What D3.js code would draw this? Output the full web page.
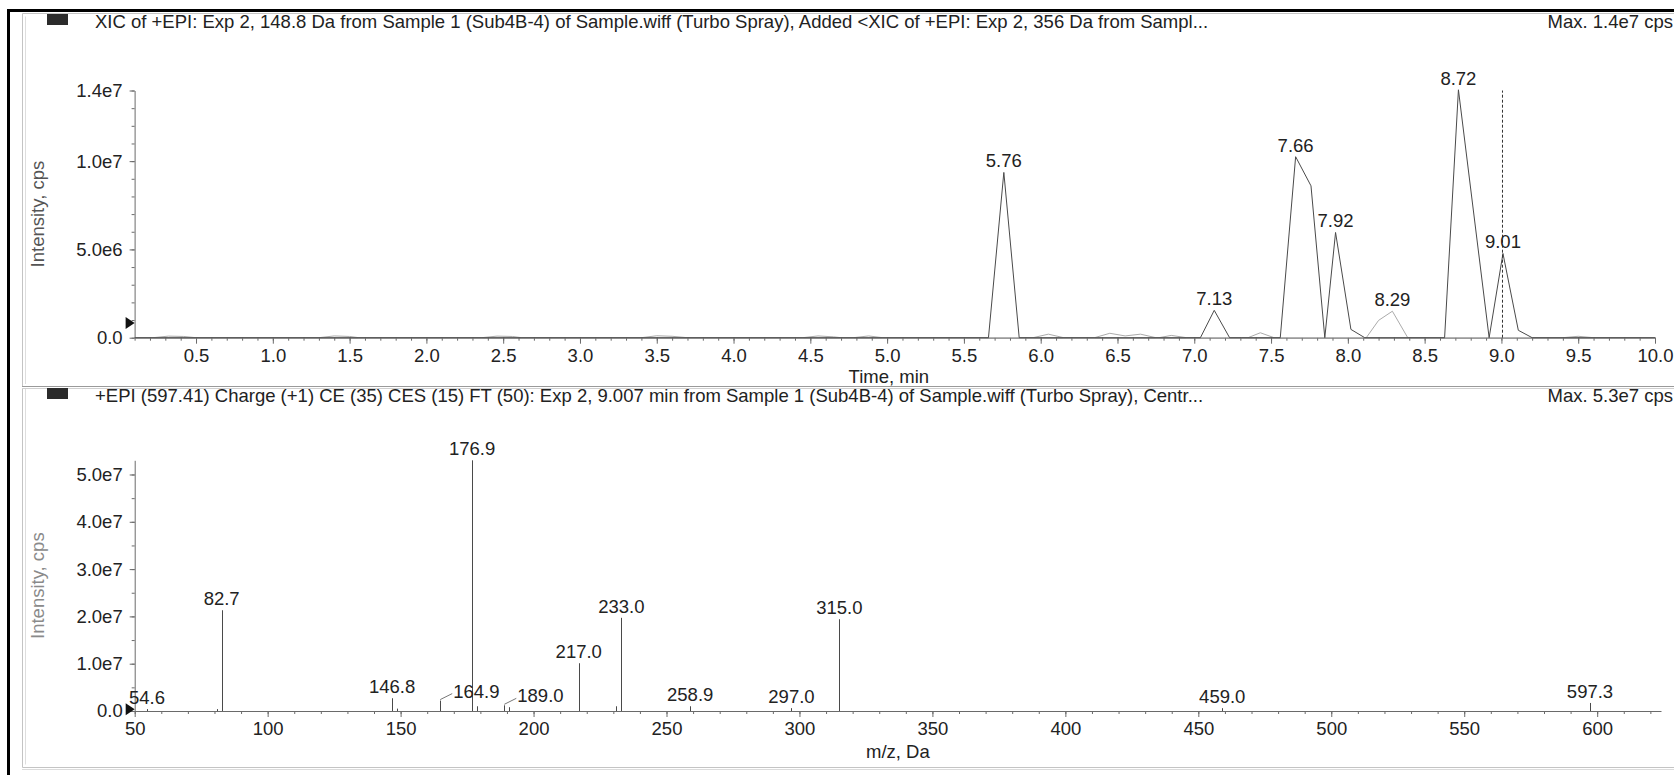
<!DOCTYPE html>
<html>
<head>
<meta charset="utf-8">
<script src="https://cdn.jsdelivr.net/npm/d3@7"></script>
<style>
  html, body { margin: 0; padding: 0; background: #fff; }
  svg { display: block; }
  text { font-family: "Liberation Sans", Arial, sans-serif; font-size: 18.5px; fill: #222; }
</style>
</head>
<body>
<svg id="fig" width="1674" height="775"></svg>
<script>
// ---- Extracted ion chromatogram, 148.8 Da (retention time, min / intensity, cps)
const xicTime = [0.10, 5.66, 5.76, 5.86, 7.04, 7.13, 7.23, 7.31, 7.56, 7.66, 7.76, 7.85,
                 7.92, 8.02, 8.11, 8.63, 8.72, 8.92, 9.01, 9.11, 9.20, 10.00];
const xicIntensity = [0, 0, 9.36e6, 0, 0, 1.55e6, 0, 0, 0, 1.025e7, 8.6e6, 0,
                      5.96e6, 4.7e5, 0, 0, 1.404e7, 0, 4.77e6, 4.2e5, 0, 0];

// ---- Added extracted ion chromatogram, 356 Da
const xic2Time = [0.10, 0.22, 0.32, 0.42, 0.50, 1.30, 1.40, 1.50, 1.56, 2.36, 2.46, 2.56, 2.62,
                  3.40, 3.50, 3.60, 3.70, 4.45, 4.55, 4.65, 4.70, 4.78, 4.88, 4.97,
                  5.95, 6.05, 6.15, 6.35, 6.45, 6.55, 6.65, 6.75, 6.77, 6.85, 6.95,
                  7.35, 7.43, 7.52, 8.12, 8.20, 8.29, 8.39, 9.40, 9.50, 9.60, 10.00];
const xic2Intensity = [0, 0, 9e4, 7e4, 0, 0, 1.0e5, 7e4, 0, 0, 9e4, 7e4, 0,
                       0, 1.1e5, 8e4, 0, 0, 1.0e5, 5e4, 0, 0, 1.0e5, 0,
                       0, 2.0e5, 0, 0, 2.5e5, 1.0e5, 2.0e5, 0, 0, 1.3e5, 0,
                       0, 2.8e5, 0, 0, 9.8e5, 1.5e6, 0, 0, 8e4, 0, 0];

const peakTimes = [5.76, 7.13, 7.66, 7.92, 8.29, 8.72, 9.01];
const selectedTime = 9.007;
const xicThreshold = 8.3e5;

const timeTicks = [0.5, 1.0, 1.5, 2.0, 2.5, 3.0, 3.5, 4.0, 4.5, 5.0,
                   5.5, 6.0, 6.5, 7.0, 7.5, 8.0, 8.5, 9.0, 9.5, 10.0];
const xicIntensityTicks = [0, 5e6, 1e7, 1.4e7];
const xicIntensityTickLabels = ["0.0", "5.0e6", "1.0e7", "1.4e7"];

// ---- Product ion spectrum at 9.007 min (m/z, Da / intensity, cps)
const mz = [54.6, 80.9, 82.7, 146.8, 148.8, 164.9, 176.9, 178.7, 189.0, 190.6,
            217.0, 230.9, 233.0, 258.9, 297.0, 315.0, 459.0, 597.3];
const mzIntensity = [4.0e5, 4.0e5, 2.13e7, 2.7e6, 5.0e5, 2.2e6, 5.3e7, 1.0e6, 1.2e6, 8.0e5,
                     1.01e7, 1.0e6, 1.97e7, 1.0e6, 6.0e5, 1.94e7, 6.0e5, 1.7e6];
const mzLabelled = [54.6, 82.7, 146.8, 164.9, 176.9, 189.0, 217.0, 233.0,
                    258.9, 297.0, 315.0, 459.0, 597.3];
const mzLeaderLabelled = [164.9, 189.0];
const spectrumThreshold = 3.6e5;

const mzTicks = [50, 100, 150, 200, 250, 300, 350, 400, 450, 500, 550, 600];
const spectrumIntensityTicks = [0, 1e7, 2e7, 3e7, 4e7, 5e7];
const spectrumIntensityTickLabels = ["0.0", "1.0e7", "2.0e7", "3.0e7", "4.0e7", "5.0e7"];

const xicTitle = "XIC of +EPI: Exp 2, 148.8 Da from Sample 1 (Sub4B-4) of Sample.wiff (Turbo Spray), Added <XIC of +EPI: Exp 2, 356 Da from Sampl...";
const spectrumTitle = "+EPI (597.41) Charge (+1) CE (35) CES (15) FT (50): Exp 2, 9.007 min from Sample 1 (Sub4B-4) of Sample.wiff (Turbo Spray), Centr...";

// ------------------------------------------------------------------
const svg = d3.select("#fig");
svg.append("rect").attr("width", 1674).attr("height", 775).attr("fill", "#fff");

// window frames
const frame = svg.append("g").attr("fill", "none");
frame.append("path").attr("d", "M8.5,775V10.5H1674").attr("stroke", "#000").attr("stroke-width", 3);
frame.append("path").attr("d", "M22.5,386V13.5H1674").attr("stroke", "#c4c4c4");
frame.append("path").attr("d", "M25.5,384V16.5").attr("stroke", "#dedede");
frame.append("line").attr("x1", 22).attr("x2", 1674).attr("y1", 386.5).attr("y2", 386.5).attr("stroke", "#9a9a9a");
frame.append("line").attr("x1", 22).attr("x2", 1674).attr("y1", 388.5).attr("y2", 388.5).attr("stroke", "#d0d0d0");
frame.append("path").attr("d", "M22.5,389V767.5H1674").attr("stroke", "#c4c4c4");
frame.append("path").attr("d", "M25.5,389V764.5").attr("stroke", "#dedede");
frame.append("line").attr("x1", 22).attr("x2", 1674).attr("y1", 769.5).attr("y2", 769.5).attr("stroke", "#dcdcdc");

function header(top, title, maxText) {
  svg.append("rect").attr("x", 47).attr("y", top + 1).attr("width", 21).attr("height", 11).attr("fill", "#2b2b2b");
  svg.append("text").attr("x", 95).attr("y", top + 15).text(title);
  svg.append("text").attr("x", 1673).attr("y", top + 15).attr("text-anchor", "end").text(maxText);
}
header(13, xicTitle, "Max. 1.4e7 cps");
header(387, spectrumTitle, "Max. 5.3e7 cps");

function styleAxis(g) {
  g.selectAll("path.domain").attr("stroke", "#6a6a6a");
  g.selectAll(".tick line").attr("stroke", "#6a6a6a");
  g.selectAll(".tick text").attr("fill", "#222").style("font-size", "18.5px")
    .style("font-family", "\"Liberation Sans\", Arial, sans-serif");
}

function marker(x, y) {
  svg.append("path")
    .attr("d", `M${x - 9},${y - 6}L${x},${y}L${x - 9},${y + 6}Z`)
    .attr("fill", "#111");
}

// ================= XIC panel =================
const xT = d3.scaleLinear().domain([0.1, 10.0]).range([134.6, 1655]);
const yT = d3.scaleLinear().domain([0, 1.4e7]).range([337.7, 90.5]);

const gTop = svg.append("g");
// minor ticks
gTop.append("g").attr("transform", `translate(0,${yT(0)})`)
  .call(d3.axisBottom(xT).tickValues(d3.range(1, 101).map(i => i / 10)).tickSize(3).tickSizeOuter(0).tickFormat(""))
  .call(g => g.select(".domain").remove()).call(styleAxis);
gTop.append("g").attr("transform", `translate(0,${yT(0)})`)
  .call(d3.axisBottom(xT).tickValues(timeTicks).tickFormat(d3.format(".1f")).tickSize(6).tickPadding(5).tickSizeOuter(0))
  .call(styleAxis);
gTop.append("g").attr("transform", `translate(${xT(0.1)},0)`)
  .call(d3.axisLeft(yT).tickValues(d3.range(0, 15).map(i => i * 1e6)).tickSize(3).tickSizeOuter(0).tickFormat(""))
  .call(g => g.select(".domain").remove()).call(styleAxis);
gTop.append("g").attr("transform", `translate(${xT(0.1)},0)`)
  .call(d3.axisLeft(yT).tickValues(xicIntensityTicks)
    .tickFormat((d, i) => xicIntensityTickLabels[i]).tickSize(5).tickPadding(7).tickSizeOuter(0))
  .call(styleAxis);

gTop.append("text").attr("x", (xT.range()[0] + xT.range()[1]) / 2 - 6).attr("y", 383)
  .attr("text-anchor", "middle").text("Time, min");
gTop.append("text").attr("transform", `translate(44,${(yT.range()[0] + yT.range()[1]) / 2}) rotate(-90)`)
  .attr("text-anchor", "middle").style("fill", "#555").text("Intensity, cps");

const lineT = d3.line().x(d => xT(d[0])).y(d => yT(d[1]));
gTop.append("path").datum(d3.zip(xic2Time, xic2Intensity))
  .attr("d", lineT).attr("fill", "none").attr("stroke", "#ababab").attr("stroke-width", 1);
gTop.append("path").datum(d3.zip(xicTime, xicIntensity))
  .attr("d", lineT).attr("fill", "none").attr("stroke", "#4a4a4a").attr("stroke-width", 1);

// selected retention time
gTop.append("line")
  .attr("x1", xT(selectedTime)).attr("x2", xT(selectedTime))
  .attr("y1", yT(0)).attr("y2", yT(1.4e7))
  .attr("stroke", "#333").attr("stroke-width", 1).attr("stroke-dasharray", "3,2");

// apex labels
function apexIntensity(t) {
  let i = xicTime.indexOf(t);
  if (i >= 0) return xicIntensity[i];
  i = xic2Time.indexOf(t);
  return i >= 0 ? xic2Intensity[i] : 0;
}
gTop.selectAll("text.peak").data(peakTimes).join("text")
  .attr("class", "peak")
  .attr("x", d => xT(d)).attr("y", d => yT(apexIntensity(d)) - 5)
  .attr("text-anchor", "middle").text(d => d3.format(".2f")(d));

marker(xT(0.1), yT(xicThreshold));

// ================= Spectrum panel =================
const xB = d3.scaleLinear().domain([50, 624]).range([134.7, 1661]);
const yB = d3.scaleLinear().domain([0, 5.3e7]).range([711, 460.3]);

const gBot = svg.append("g");
gBot.append("g").attr("transform", `translate(0,${yB(0)})`)
  .call(d3.axisBottom(xB).tickValues(d3.range(5, 63).map(i => i * 10)).tickSize(3).tickSizeOuter(0).tickFormat(""))
  .call(g => g.select(".domain").remove()).call(styleAxis);
gBot.append("g").attr("transform", `translate(0,${yB(0)})`)
  .call(d3.axisBottom(xB).tickValues(mzTicks).tickFormat(d3.format("d")).tickSize(6).tickPadding(5).tickSizeOuter(0))
  .call(styleAxis);
gBot.append("g").attr("transform", `translate(${xB(50)},0)`)
  .call(d3.axisLeft(yB).tickValues(d3.range(0, 11).map(i => i * 5e6)).tickSize(3).tickSizeOuter(0).tickFormat(""))
  .call(g => g.select(".domain").remove()).call(styleAxis);
gBot.append("g").attr("transform", `translate(${xB(50)},0)`)
  .call(d3.axisLeft(yB).tickValues(spectrumIntensityTicks)
    .tickFormat((d, i) => spectrumIntensityTickLabels[i]).tickSize(5).tickPadding(7).tickSizeOuter(0))
  .call(styleAxis);

gBot.append("text").attr("x", (xB.range()[0] + xB.range()[1]) / 2).attr("y", 758)
  .attr("text-anchor", "middle").text("m/z, Da");
gBot.append("text").attr("transform", `translate(44,${(yB.range()[0] + yB.range()[1]) / 2}) rotate(-90)`)
  .attr("text-anchor", "middle").style("fill", "#8a8a8a").text("Intensity, cps");

const sticks = d3.zip(mz, mzIntensity);
gBot.selectAll("line.stick").data(sticks).join("line")
  .attr("class", "stick")
  .attr("x1", d => Math.round(xB(d[0])) + 0.5).attr("x2", d => Math.round(xB(d[0])) + 0.5)
  .attr("y1", yB(0)).attr("y2", d => yB(d[1]))
  .attr("stroke", "#4a4a4a").attr("stroke-width", 1);

const labelled = sticks.filter(d => mzLabelled.includes(d[0]));
labelled.forEach(d => {
  const x = xB(d[0]), y = yB(d[1]);
  if (mzLeaderLabelled.includes(d[0])) {
    gBot.append("line").attr("x1", x).attr("y1", y - 1).attr("x2", x + 12).attr("y2", y - 7)
      .attr("stroke", "#777").attr("stroke-width", 1);
    gBot.append("text").attr("x", x + 13).attr("y", y - 3).text(d3.format(".1f")(d[0]));
  } else {
    gBot.append("text").attr("x", x).attr("y", y - 5).attr("text-anchor", "middle").text(d3.format(".1f")(d[0]));
  }
});

marker(xB(50), yB(spectrumThreshold));
</script>
</body>
</html>
